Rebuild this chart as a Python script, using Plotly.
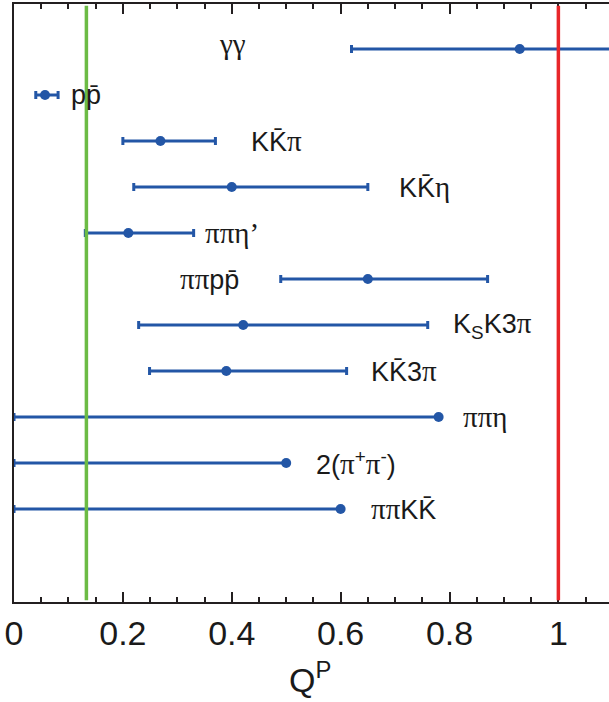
import plotly.graph_objects as go

SANS = "Liberation Sans"
SERIF = "Liberation Serif"

def g(s):
    return f'<span style="font-family:{SERIF};font-size:29px">{s}</span>'

# channel labels (top to bottom)
channels = [
    g("γγ"),
    "pp\u0304",
    "KK\u0304" + g("π"),
    "KK\u0304" + g("η"),
    g("ππη’"),
    g("ππ") + "pp\u0304",
    "K<sub>S</sub>K3" + g("π"),
    "KK\u03043" + g("π"),
    g("ππη"),
    "2(" + g("π") + "<sup>+</sup>" + g("π") + "<sup>-</sup>)",
    g("ππ") + "KK\u0304",
]
# Q^P central values
qp_value = [0.929, 0.057, 0.269, 0.400, 0.210, 0.650, 0.421, 0.390, 0.780, 0.500, 0.600]
# lower / upper bounds of the intervals
qp_low   = [0.620, 0.040, 0.200, 0.220, 0.131, 0.490, 0.229, 0.249, 0.0, 0.0, 0.0]
qp_high  = [1.300, 0.081, 0.370, 0.650, 0.330, 0.870, 0.760, 0.611, 0.780, 0.500, 0.600]
# label placement (x of left edge, except first which is centered)
label_x  = [0.402, 0.101, 0.431, 0.703, 0.348, 0.301, 0.802, 0.652, 0.822, 0.551, 0.652]
label_dy = [5, 0, 0, 0, 0, 0, 0, 0, 0, 0, 0]

green_line_x = 0.133
red_line_x = 1.0

BLUE = "#2356a6"

err_plus = [h - v for h, v in zip(qp_high, qp_value)]
err_minus = [v - l for v, l in zip(qp_value, qp_low)]

keys = [f"c{i}" for i in range(len(channels))]

fig = go.Figure()
fig.add_trace(go.Scatter(
    x=qp_value, y=keys, mode="markers",
    marker=dict(color=BLUE, size=10),
    error_x=dict(type="data", symmetric=False, array=err_plus, arrayminus=err_minus,
                 color=BLUE, thickness=3, width=4),
    showlegend=False,
))

for i, (lab, lx, dy) in enumerate(zip(channels, label_x, label_dy)):
    fig.add_annotation(
        x=lx, y=keys[i], text=lab, showarrow=False, yshift=dy,
        xanchor="center" if i == 0 else "left", yanchor="middle",
        font=dict(family=SANS, size=27, color="#1a1a1a"),
    )

# axis title
fig.add_annotation(
    x=0.497, y=-0.166, xref="paper", yref="paper", text="Q<sup>P</sup>", showarrow=False,
    xanchor="center", yanchor="bottom",
    font=dict(family=SANS, size=34, color="#1a1a1a"),
)

for xv, col in [(green_line_x, "#6cbb45"), (red_line_x, "#e8262a")]:
    fig.add_shape(type="line", xref="x", yref="paper", x0=xv, x1=xv, y0=0.003, y1=0.997,
                  line=dict(color=col, width=3.5), layer="above")

fig.update_layout(
    width=609, height=702,
    margin=dict(l=14, r=0, t=4, b=100),
    paper_bgcolor="white", plot_bgcolor="white",
    font=dict(family=SANS, color="#1a1a1a"),
    xaxis=dict(
        range=[0, 1.093], showgrid=False, zeroline=False, automargin=False,
        showline=True, linecolor="#231f20", linewidth=2, mirror="allticks",
        ticks="inside", ticklen=10, tickwidth=1.5, tickcolor="#231f20",
        tickvals=[0, 0.2, 0.4, 0.6, 0.8, 1.0], ticktext=["0", "0.2", "0.4", "0.6", "0.8", "1"],
        minor=dict(dtick=0.05, tick0=0, ticks="inside", ticklen=5, tickwidth=1.5, tickcolor="#231f20"),
        tickfont=dict(size=34, family=SANS, color="#1a1a1a"),
    ),
    yaxis=dict(
        type="category", categoryorder="array", categoryarray=keys, automargin=False,
        range=[12.02, -0.98], showgrid=False, zeroline=False,
        showline=True, linecolor="#231f20", linewidth=2, mirror=False,
        ticks="", showticklabels=False,
    ),
)

fig.write_html("out.html", config={"displayModeBar": False},
               post_script="document.body.style.margin='0px';document.body.style.overflow='hidden';")
